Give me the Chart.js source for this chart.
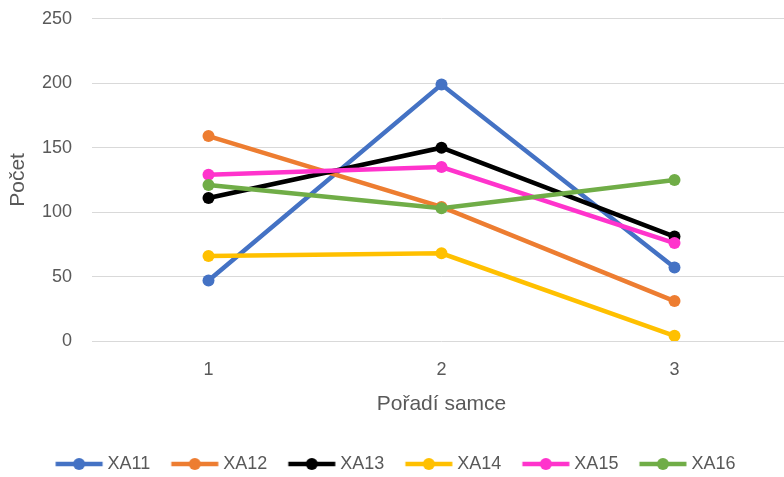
<!DOCTYPE html>
<html>
<head>
<meta charset="utf-8">
<script src="https://cdn.jsdelivr.net/npm/chart.js@4/dist/chart.umd.min.js"></script>
<style>
  html, body { margin: 0; padding: 0; background: #fff; overflow: hidden; }
  #wrap { width: 797px; height: 483px; }
</style>
</head>
<body>
<div id="wrap"><canvas id="c" width="797" height="483"></canvas></div>
<script>
const categories = ['1', '2', '3'];
const seriesNames = ['XA11', 'XA12', 'XA13', 'XA14', 'XA15', 'XA16'];
const xa11 = [47, 199, 57];
const xa12 = [159, 104, 31];
const xa13 = [111, 150, 81];
const xa14 = [66, 68, 4];
const xa15 = [129, 135, 76];
const xa16 = [121, 103, 125];
const seriesValues = [xa11, xa12, xa13, xa14, xa15, xa16];
const seriesColors = ['#4472C4', '#ED7D31', '#000000', '#FFC000', '#FF33CC', '#70AD47'];
const yMin = 0, yMax = 250, yStep = 50;
const xTitle = 'Pořadí samce';
const yTitle = 'Počet';

const FONT = "'Liberation Sans', Arial, sans-serif";
const TXT = '#595959';

function makeLegendImage(color) {
  const cv = document.createElement('canvas');
  cv.width = 60; cv.height = 14;
  const g = cv.getContext('2d');
  g.strokeStyle = color;
  g.lineWidth = 4.5;
  g.beginPath();
  g.moveTo(5.5, 7); g.lineTo(52.5, 7);
  g.stroke();
  g.fillStyle = color;
  g.beginPath();
  g.arc(29, 7, 6, 0, Math.PI * 2);
  g.fill();
  return cv;
}
const legendImages = seriesColors.map(makeLegendImage);

const datasets = seriesNames.map((name, i) => ({
  label: name,
  data: seriesValues[i],
  borderColor: seriesColors[i],
  backgroundColor: seriesColors[i],
  pointBackgroundColor: seriesColors[i],
  pointBorderColor: seriesColors[i],
  pointBorderWidth: 0,
  pointRadius: 6,
  borderWidth: 4.5,
  tension: 0,
  fill: false,
  order: seriesNames.length - i
}));

new Chart(document.getElementById('c'), {
  type: 'line',
  data: { labels: categories, datasets },
  options: {
    responsive: false,
    animation: false,
    layout: { padding: { top: 0, right: 0, bottom: 0, left: 0 } },
    plugins: {
      tooltip: { enabled: false },
      legend: {
        position: 'bottom',
        labels: {
          usePointStyle: true,
          pointStyleWidth: 37,
          boxHeight: 18,
          padding: 27,
          color: TXT,
          font: { family: FONT, size: 18 },
          generateLabels: (chart) => chart.data.datasets.map((ds, i) => ({
            text: ds.label,
            pointStyle: legendImages[i],
            fillStyle: ds.borderColor,
            strokeStyle: ds.borderColor,
            lineWidth: 0,
            hidden: false,
            datasetIndex: i,
            fontColor: TXT
          }))
        }
      }
    },
    scales: {
      x: {
        offset: true,
        grid: { display: true, color: 'rgba(0,0,0,0)', drawTicks: true, tickLength: 18, tickColor: 'rgba(0,0,0,0)' },
        border: { display: false },
        ticks: { color: TXT, font: { family: FONT, size: 18 }, padding: 0 },
        title: { display: true, text: xTitle, color: TXT, font: { family: FONT, size: 21 }, padding: { top: 4, bottom: 11 } },
        afterFit: (s) => { s.height = 87; }
      },
      y: {
        min: yMin, max: yMax,
        grid: { color: '#D9D9D9', lineWidth: 1, drawTicks: true, tickLength: 12, tickColor: 'rgba(0,0,0,0)' },
        border: { display: false },
        ticks: { stepSize: yStep, color: TXT, font: { family: FONT, size: 18 }, padding: 8 },
        title: { display: true, text: yTitle, color: TXT, font: { family: FONT, size: 21 }, padding: { top: 6, bottom: 4 } },
        afterFit: (s) => { s.width = 92; }
      }
    }
  }
});
</script>
</body>
</html>
